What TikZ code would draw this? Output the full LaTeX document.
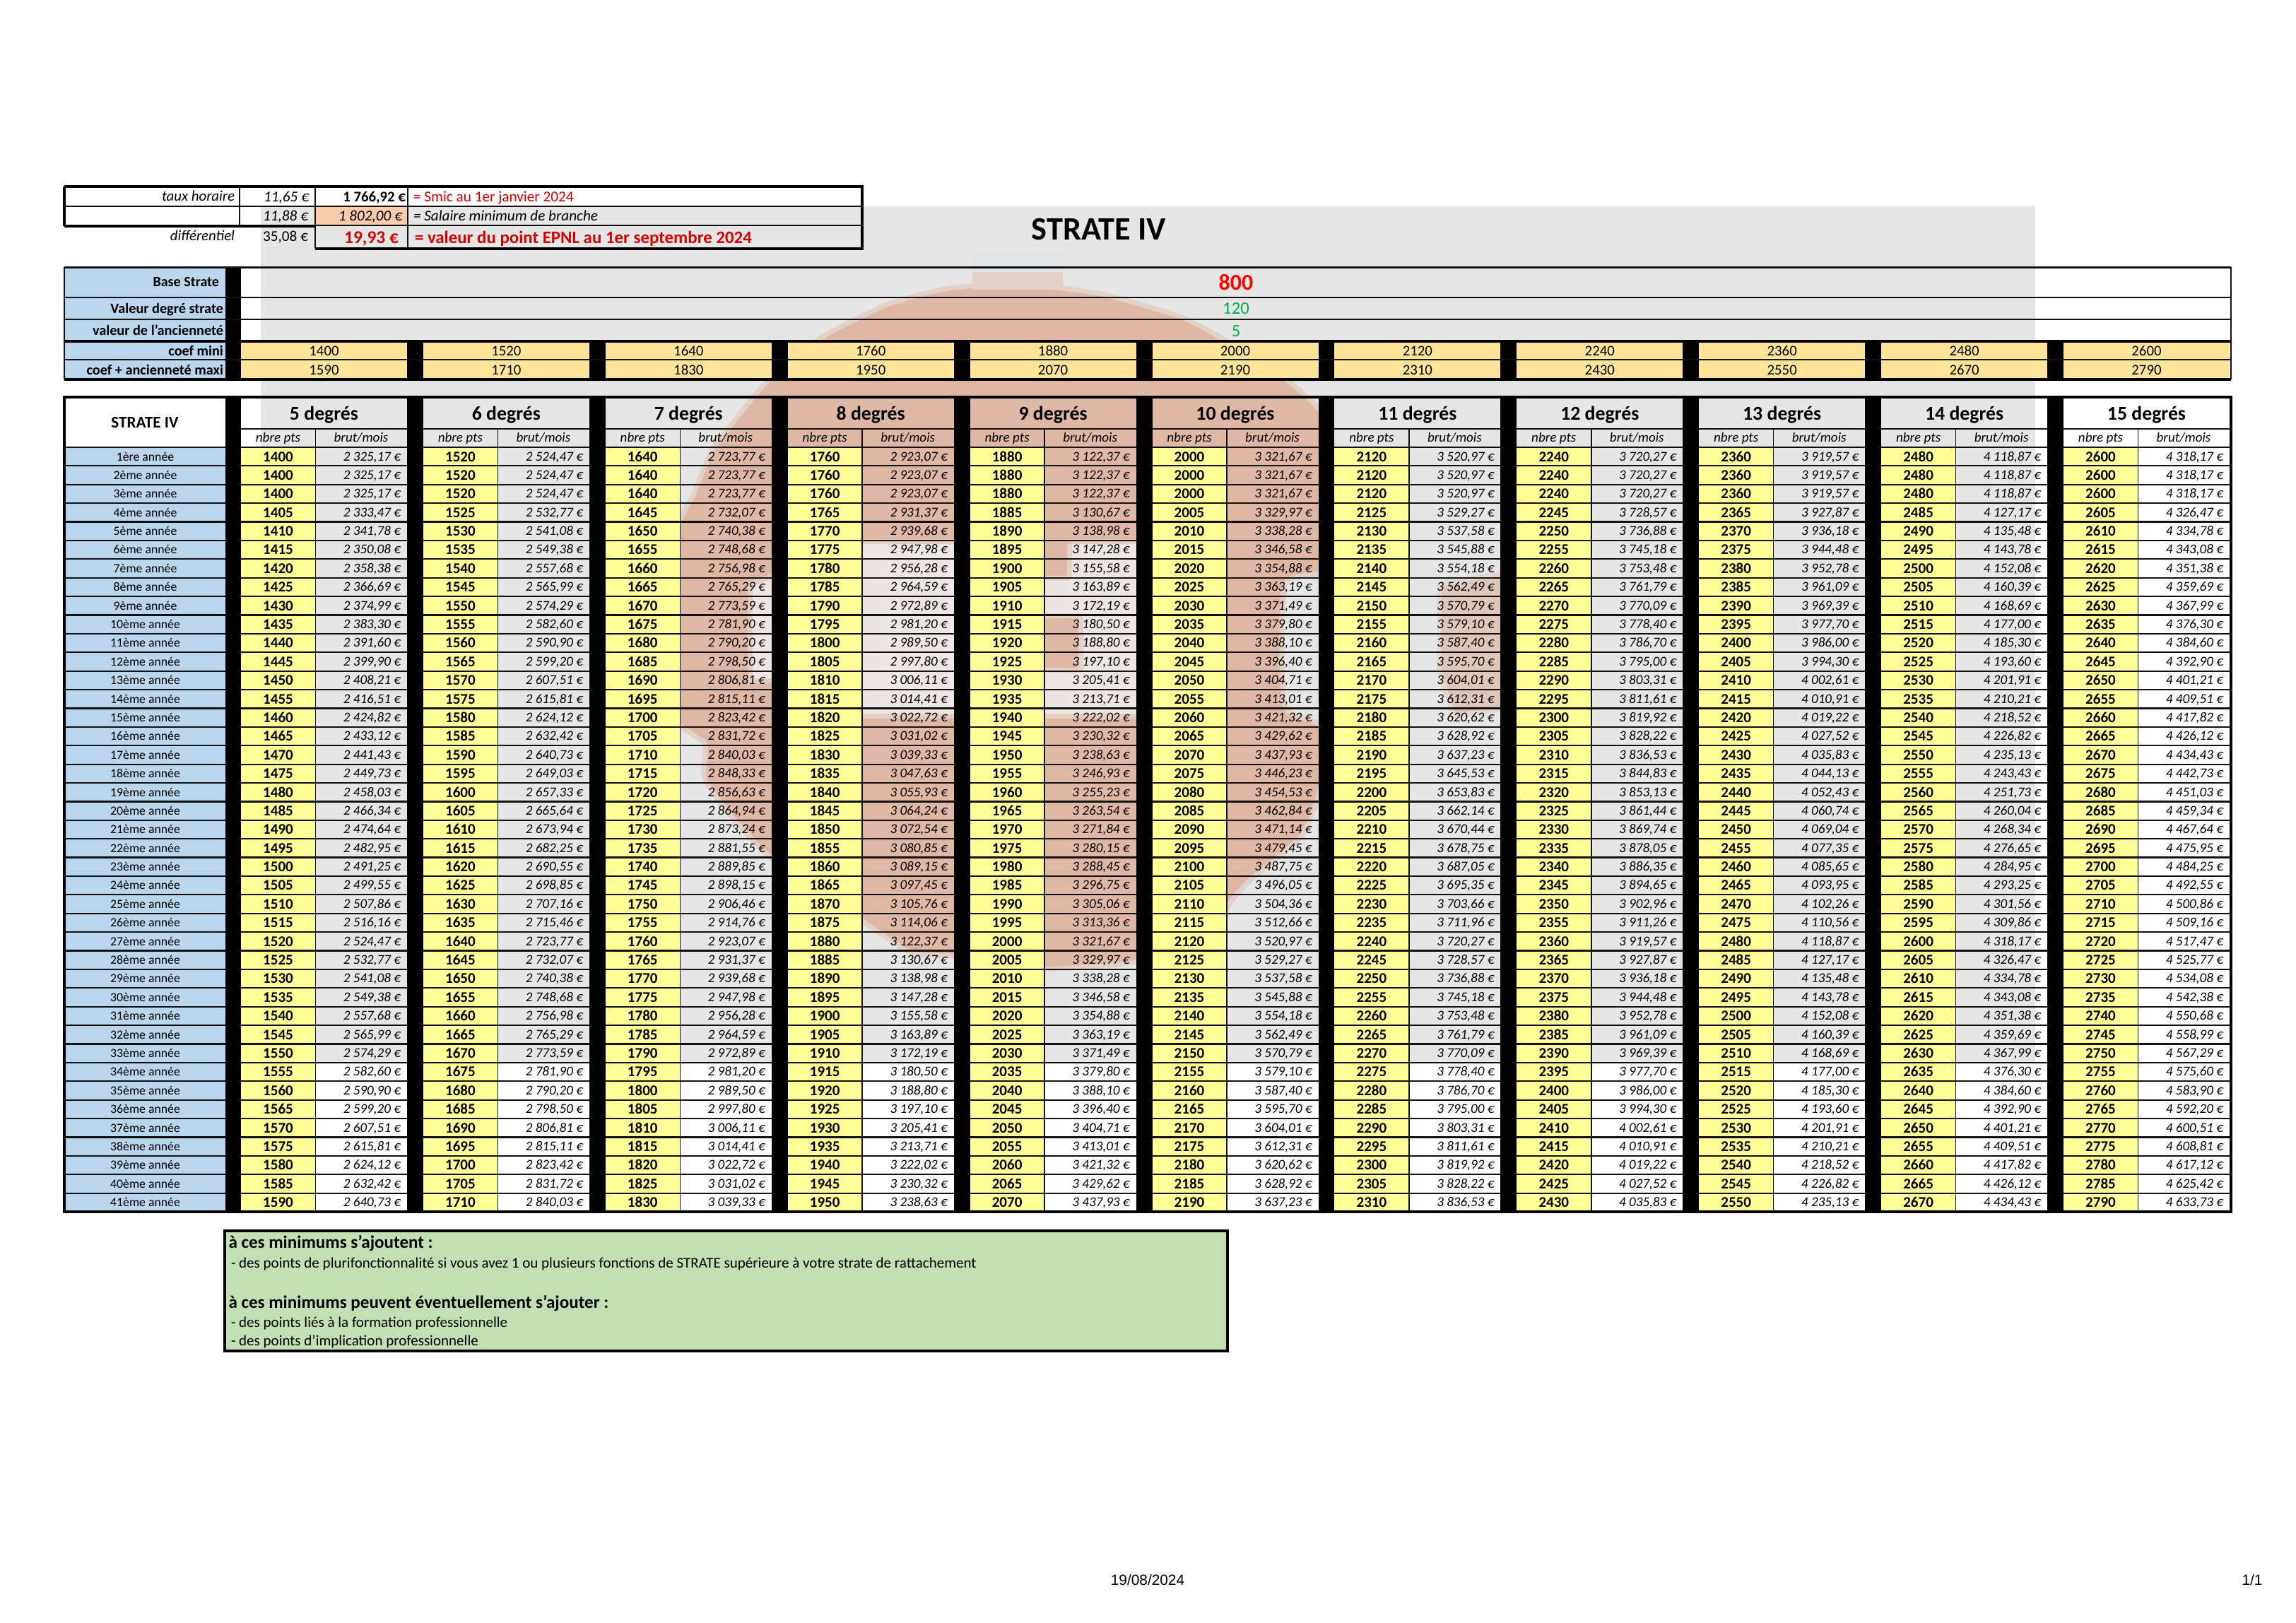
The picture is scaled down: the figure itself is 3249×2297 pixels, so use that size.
\documentclass[tikz,border=0pt]{standalone}
\usepackage{fontspec}
\setmainfont{Carlito}
\newfontfamily\footf{Liberation Sans}
\definecolor{wmgray}{HTML}{E6E6E6}
\definecolor{wmsal}{HTML}{DFB8A5}
\definecolor{wmpale}{HTML}{EDE6E5}
\definecolor{wmside}{HTML}{DFC6BA}
\definecolor{cellyel}{HTML}{FFFF99}
\definecolor{coefyel}{HTML}{FEE599}
\definecolor{blueh}{HTML}{BBD5EC}
\definecolor{orsal}{HTML}{F8CBAD}
\definecolor{notegr}{HTML}{C5DFB4}
\definecolor{redA}{HTML}{D60000}
\definecolor{redB}{HTML}{FF0000}
\definecolor{greenA}{HTML}{00B050}
\definecolor{rule}{HTML}{111111}
\newcommand{\fs}[1]{\fontsize{#1}{#1}\selectfont}
\newcount\brutv \newcount\brute \newcount\brutc \newcount\brutk \newcount\brutr
\newcommand{\brutfmt}[1]{\brutv=\numexpr #1*1993/12\relax
 \brute=\numexpr(\brutv-50)/100\relax
 \brutc=\numexpr\brutv-\brute*100\relax
 \brutk=\numexpr(\brute-500)/1000\relax
 \brutr=\numexpr\brute-\brutk*1000\relax
 \the\brutk~\ifnum\brutr<100 0\fi\ifnum\brutr<10 0\fi\the\brutr,\ifnum\brutc<10 0\fi\the\brutc~€}
\tikzset{
 x=0.2592pt,y=-0.2592pt,
 txt/.style={inner sep=0pt,outer sep=0pt},
 tpts/.style={txt,anchor=base,font=\fs{5.45}\bfseries},
 tbrut/.style={txt,anchor=base east,font=\fs{4.95}\itshape},
 tyear/.style={txt,anchor=base,font=\fs{4.6}},
 thead/.style={txt,anchor=base,font=\fs{7.2}\bfseries},
 tsub/.style={txt,anchor=base,font=\fs{4.95}\itshape},
 tcoef/.style={txt,anchor=base,font=\fs{5.4}},
 tlab/.style={txt,anchor=base east,font=\fs{5.25}\bfseries},
 tnote/.style={txt,anchor=base west,font=\fs{5.45}},
 tnoteb/.style={txt,anchor=base west,font=\fs{6.5}\bfseries},
 ttop/.style={txt,font=\fs{5.5}},
 softedge/.style={draw opacity=.45,line width=14*0.2592pt,line join=round},
 thin rule/.style={rule,line width=2.2*0.2592pt},
 mid rule/.style={rule,line width=3*0.2592pt},
 thick rule/.style={black,line width=4*0.2592pt},
}
\begin{document}
\begin{tikzpicture}
\useasboundingbox (0,0) rectangle (3249,2297);
% watermark behind the tables
\fill[wmgray] (369,292) rectangle (2880,1503);
\path[fill=wmsal,draw=wmsal,softedge] plot[smooth cycle,tension=.35] coordinates {
 (1440,405) (1560,420) (1670,452) (1730,483) (1800,525) (1870,590) (1895,700) (1890,800)
 (1815,825) (1815,1000) (1866,1030) (1866,1110) (1840,1180) (1770,1240) (1742,1270)
 (1700,1330) (1608,1358) (1480,1368) (1350,1350) (1290,1345) (1221,1300) (1150,1260)
 (1076,1195) (1035,1150) (1000,1100) (1000,1050) (950,1000) (960,760) (985,700) (1010,640)
 (1040,600) (1090,540) (1160,483) (1255,435) (1340,412)};
\path[fill=wmpale,draw=wmpale,softedge] (1065,830) -- (1219,770) -- (1608,770) -- (1608,1010) -- (1219,1010) -- (1219,960) -- (1065,960) -- cycle;
\path[fill=wmsal,draw=wmsal,softedge] (1470,875) rectangle (1526,945);
\path[fill=wmsal,draw=wmsal,softedge] (1470,764) rectangle (1510,815);
\path[fill=wmside,draw=wmside,softedge] (2040,830) -- (2123,815) -- (2123,1000) -- (2060,1010) -- (2040,950) -- cycle;
\fill[wmsal!45!wmgray] (1376,385) rectangle (1504,410);
\fill[wmgray!92!blueh] (1376,357) rectangle (1504,385);

% top box
\fill[orsal] (446,292) rectangle (577,319);
\draw[thin rule] (91,292) -- (1220,292);
\draw[thin rule] (446,319) -- (1220,319);
\draw[thin rule] (339,264) -- (339,320) (446,264) -- (446,352) (577,264) -- (577,352);
\draw[thick rule] (91,320) -- (446,320) (91,264) -- (91,320);
\draw[thick rule] (91,264) -- (1220,264) -- (1220,352) -- (446,352);
\node[ttop,anchor=base east,font=\fs{5.4}\itshape] (tauxl) at (332,284) {taux horaire};
\node[ttop,anchor=base east,font=\fs{5.5}\itshape] (taux1) at (437,285) {11,65~€};
\node[ttop,anchor=base east,font=\fs{5.4}\bfseries] (smicv) at (574,285) {1~766,92~€};
\node[ttop,anchor=base west,text=redA] (smicl) at (585,285) {= Smic au 1er janvier 2024};
\node[ttop,anchor=base east,font=\fs{5.5}\itshape] (taux2) at (436,312) {11,88~€};
\node[ttop,anchor=base east,font=\fs{5.5}\itshape] (minv) at (569,312) {1~802,00~€};
\node[ttop,anchor=base west,font=\fs{5.5}\itshape] (minl) at (585,312) {= Salaire minimum de branche};
\node[ttop,anchor=base east,font=\fs{5.4}\itshape] (difl) at (332,340) {différentiel};
\node[ttop,anchor=base east] (difv) at (436,341) {35,08~€};
\node[txt,anchor=base east,font=\fs{6.6}\bfseries,text=redA] (ptv) at (564,344) {19,93~€};
\node[txt,anchor=base west,font=\fs{6.45}\bfseries,text=redA] (ptl) at (587,344) {= valeur du point EPNL au 1er septembre 2024};
\node[txt,anchor=base,font=\fs{12}\bfseries] (title) at (1555,339) {STRATE IV};

% parameters table
\fill[blueh] (91,378) rectangle (319,537);
\fill[black] (319,378) rectangle (341,537);
\foreach \k in {0,...,10}{
 \pgfmathsetmacro{\gx}{341+257.9*\k}
 \fill[coefyel] (\gx,483) rectangle (\gx+235,537);
 \ifnum\k<10 \fill[black] (\gx+235,483) rectangle (\gx+257.9,537);\fi
 \pgfmathtruncatemacro{\cmin}{1400+120*\k}
 \pgfmathtruncatemacro{\cmax}{\cmin+190}
 \node[tcoef] (cmin\k) at (\gx+117.5,503) {\cmin};
 \node[tcoef] (cmax\k) at (\gx+117.5,530) {\cmax};
}
\draw[thin rule] (91,421) -- (3157,421) (91,452) -- (3157,452) (91,509) -- (3157,509);
\draw[mid rule] (91,378) -- (3157,378);
\draw[thick rule] (91,483) -- (3157,483) (91,537) -- (3157,537);
\draw[thin rule] (91,378) -- (91,537) (3157,378) -- (3157,537);
\node[tlab,font=\fs{5.2}\bfseries] (lbase) at (310,405) {Base Strate};
\node[tlab] (lval) at (316,443) {Valeur degré strate};
\node[tlab] (lanc) at (316,474) {valeur de l'ancienneté};
\node[tlab] (lmin) at (316,503) {coef mini};
\node[tlab] (lmax) at (316,530) {coef + ancienneté maxi};
\node[txt,anchor=base,font=\fs{8.3}\bfseries,text=redB] (vbase) at (1749,410) {800};
\node[txt,anchor=base,font=\fs{6.4},text=greenA] (vval) at (1749,444) {120};
\node[txt,anchor=base,font=\fs{6.4},text=greenA] (vanc) at (1749,476) {5};

% main table
\fill[white] (91,562) rectangle (319,633);
\fill[blueh] (91,633) rectangle (319,1715);
\node[txt,anchor=base,font=\fs{6}\bfseries] (stratelab) at (205,605) {STRATE IV};
\foreach \k in {0,...,10}{
 \pgfmathsetmacro{\gx}{341+257.9*\k}
 \pgfmathtruncatemacro{\deg}{5+\k}
 \pgfmathtruncatemacro{\bas}{1400+120*\k}
 \fill[cellyel] (\gx,633) rectangle (\gx+105.5,1715);
 \draw[line width=1.5*0.2592pt,rule] (\gx+105.5,607) -- (\gx+105.5,1715);
 \node[thead] (head\k) at (\gx+117.5,594) {\deg\ degrés};
 \node[tsub] (subp\k) at (\gx+52.5,625) {nbre pts};
 \node[tsub] (subb\k) at (\gx+170,625) {brut/mois};
 \foreach \r in {1,...,41}{
  \pgfmathsetmacro{\ty}{633+26.39*(\r-1)}
  \pgfmathtruncatemacro{\pts}{\r<3 ? \bas : \bas+5*(\r-3)}
  \node[tpts] (p\k-\r) at (\gx+52.5,\ty+20) {\pts};
  \node[tbrut] (b\k-\r) at (\gx+226,\ty+19) {\brutfmt{\pts}};
 }
}
\foreach \r in {1,...,41}{
 \pgfmathsetmacro{\ty}{633+26.39*(\r-1)}
 \node[tyear] (y\r) at (205.5,\ty+19) {\r\ifnum\r=1 ère\else ème\fi\ année};
 \draw[thin rule] (91,\ty) -- (3157,\ty);
}
\draw[thin rule] (341,607) -- (3157,607);
\fill[black] (319,562) rectangle (341,1715);
\foreach \k in {0,...,9}{\pgfmathsetmacro{\gx}{341+257.9*\k}\fill[black] (\gx+235,562) rectangle (\gx+257.9,1715);}
\draw[thick rule] (91,562) -- (3157,562) -- (3157,1715) -- (91,1715) -- cycle;

% note
\draw[notegr,fill=notegr] (318,1742) rectangle (1737,1912);
\draw[thick rule] (318,1742) rectangle (1737,1912);
\node[tnoteb] (n1) at (323.5,1766) {à ces minimums s'ajoutent :};
\node[tnote] (n2) at (327,1794) {- des points de plurifonctionnalité si vous avez 1 ou plusieurs fonctions de STRATE supérieure à votre strate de rattachement};
\node[tnoteb] (n3) at (323.5,1851) {à ces minimums peuvent éventuellement s'ajouter :};
\node[tnote] (n4) at (327,1878) {- des points liés à la formation professionnelle};
\node[tnote] (n5) at (327,1904) {- des points d'implication professionnelle};

% footer
\node[txt,anchor=base,font=\footf\fs{5.4}] (fdate) at (1624,2243) {19/08/2024};
\node[txt,anchor=base,font=\footf\fs{5.4}] (fpage) at (3187,2243) {1/1};
\end{tikzpicture}
\end{document}
